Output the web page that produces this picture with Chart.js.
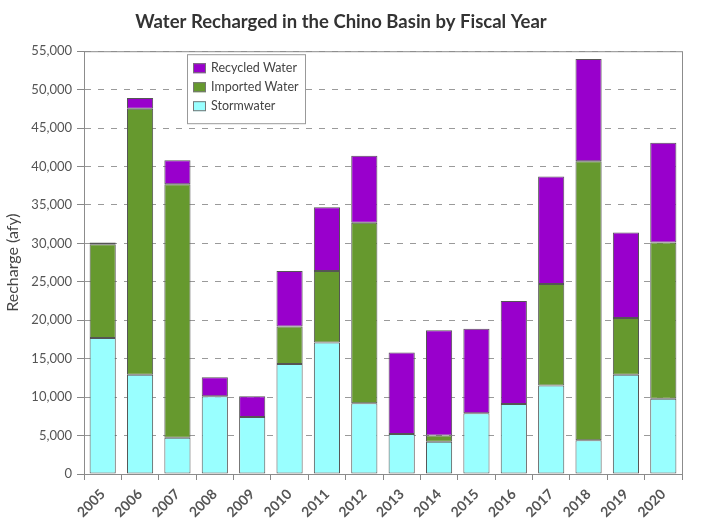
<!DOCTYPE html>
<html>
<head>
<meta charset="utf-8">
<script src="https://cdn.jsdelivr.net/npm/chart.js@4/dist/chart.umd.min.js"></script>
<style>
  body { margin: 0; background: #fff; }
  #wrap { width: 704px; height: 529px; }
</style>
</head>
<body>
<div id="wrap"><canvas id="rechargeChart" width="704" height="529"></canvas></div>
<script>
// Fiscal years and recharge volumes (acre-feet per year)
const years = ['2005', '2006', '2007', '2008', '2009', '2010', '2011', '2012',
               '2013', '2014', '2015', '2016', '2017', '2018', '2019', '2020'];
const stormwater = [17700, 12900, 4700, 10100, 7400, 14300, 17100, 9200,
                    5200, 4200, 7900, 9100, 11500, 4400, 12900, 9800];
const importedWater = [12200, 34600, 33000, 0, 0, 4900, 9300, 23500,
                       0, 800, 0, 0, 13200, 36300, 7400, 20300];
const recycledWater = [200, 1400, 3100, 2500, 2700, 7200, 8300, 8700,
                       10600, 13700, 11000, 13400, 14000, 13300, 11100, 13000];
const yMax = 55000;
const yStep = 5000;

const FONT = 'Lato, "Open Sans", sans-serif';
Chart.defaults.font.family = FONT;
Chart.defaults.color = '#555';

// Gray box around the plot area
const plotBox = {
    id: 'plotBox',
    beforeDatasetsDraw(chart) {
        const { ctx, chartArea: a } = chart;
        ctx.save();
        ctx.strokeStyle = '#8c8c8c';
        ctx.lineWidth = 1;
        ctx.strokeRect(a.left + 0.5, a.top + 0.5, a.right - a.left, a.bottom - a.top);
        ctx.restore();
    }
};

// Legend drawn inside the plot, top series first
const boxLegend = {
    id: 'boxLegend',
    afterDraw(chart) {
        const { ctx, chartArea: a } = chart;
        const items = chart.data.datasets.slice().reverse();
        const x = a.left + 103, y = a.top + 3;
        const w = 118, rowH = 19;
        const h = items.length * rowH + 12;
        ctx.save();
        ctx.fillStyle = '#fff';
        ctx.fillRect(x, y, w, h);
        ctx.strokeStyle = '#999';
        ctx.lineWidth = 1;
        ctx.strokeRect(x + 0.5, y + 0.5, w, h);
        ctx.font = '12.5px ' + FONT;
        ctx.textBaseline = 'middle';
        items.forEach((ds, i) => {
            const cy = y + 14 + i * rowH;
            ctx.fillStyle = ds.backgroundColor;
            ctx.fillRect(x + 6, cy - 5, 13, 10);
            ctx.strokeStyle = '#777';
            ctx.strokeRect(x + 6.5, cy - 4.5, 12, 9);
            ctx.fillStyle = '#444';
            ctx.fillText(ds.label, x + 24, cy);
        });
        ctx.restore();
    }
};

const ctx = document.getElementById('rechargeChart').getContext('2d');
new Chart(ctx, {
    type: 'bar',
    data: {
        labels: years,
        datasets: [
            { label: 'Stormwater', data: stormwater, backgroundColor: '#99ffff' },
            { label: 'Imported Water', data: importedWater, backgroundColor: '#66992e' },
            { label: 'Recycled Water', data: recycledWater, backgroundColor: '#9900cc' }
        ].map(ds => Object.assign(ds, {
            borderColor: '#555',
            borderWidth: 1,
            borderSkipped: false,
            categoryPercentage: 1,
            barPercentage: 0.7
        }))
    },
    options: {
        responsive: false,
        animation: false,
        layout: { padding: { left: 0, right: 22, top: 11, bottom: 0 } },
        plugins: {
            legend: { display: false },
            tooltip: { enabled: false },
            title: {
                display: true,
                text: 'Water Recharged in the Chino Basin by Fiscal Year',
                color: '#333',
                font: { size: 18.5, weight: 'bold' },
                padding: { top: 0, bottom: 18 }
            }
        },
        scales: {
            x: {
                stacked: true,
                afterFit: s => { s.height = 55; },
                grid: { display: true, drawOnChartArea: false, drawTicks: true, tickLength: 6, tickColor: '#888' },
                border: { display: true, color: '#888' },
                ticks: { minRotation: 45, maxRotation: 45, padding: 6, color: '#555', font: { size: 14, weight: 'bold' } }
            },
            y: {
                stacked: true,
                min: 0,
                max: yMax,
                afterFit: s => { s.width = 84; },
                border: { display: true, color: '#888', dash: [6, 7] },
                grid: {
                    color: '#9a9a9a',
                    tickBorderDash: [],
                    tickLength: 7,
                    tickColor: '#888'
                },
                ticks: {
                    stepSize: yStep,
                    padding: 5,
                    color: '#555',
                    font: { size: 13 },
                    callback: v => v.toLocaleString('en-US')
                },
                title: {
                    display: true,
                    text: 'Recharge (afy)',
                    color: '#444',
                    font: { size: 16 },
                    padding: { top: 3, bottom: 0 }
                }
            }
        }
    },
    plugins: [plotBox, boxLegend]
});
</script>
</body>
</html>
